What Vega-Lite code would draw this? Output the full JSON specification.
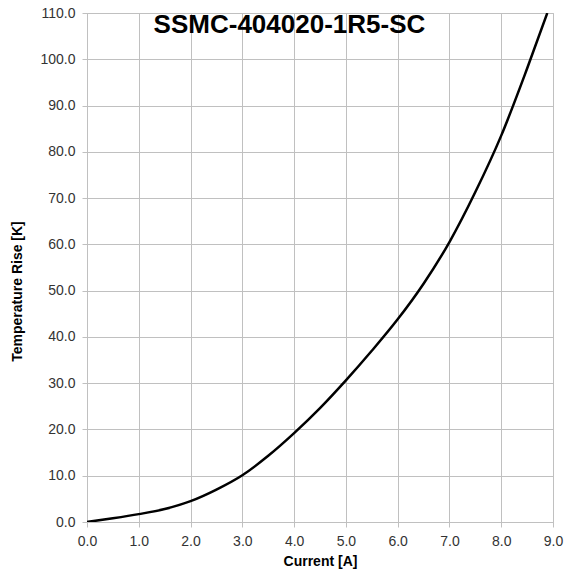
{
  "$schema": "https://vega.github.io/schema/vega-lite/v6.json",
  "width": 466,
  "height": 509,
  "autosize": "none",
  "padding": {"left": 87, "top": 13, "right": 15, "bottom": 49},
  "background": "white",
  "layer": [
    {
      "data": {
        "values": [
          {"current": 0, "rise": 0},
          {"current": 0.5, "rise": 0.8},
          {"current": 1, "rise": 1.7},
          {"current": 1.5, "rise": 2.8},
          {"current": 2, "rise": 4.5},
          {"current": 2.5, "rise": 7.0},
          {"current": 3, "rise": 10.1},
          {"current": 3.5, "rise": 14.3},
          {"current": 4, "rise": 19.2},
          {"current": 4.5, "rise": 24.6},
          {"current": 5, "rise": 30.6},
          {"current": 5.5, "rise": 37.0},
          {"current": 6, "rise": 43.8},
          {"current": 6.5, "rise": 51.5},
          {"current": 7, "rise": 60.5},
          {"current": 7.5, "rise": 71.3},
          {"current": 8, "rise": 83.5},
          {"current": 8.5, "rise": 98.0},
          {"current": 8.89, "rise": 110.0}
        ]
      },
      "mark": {"type": "line", "color": "#000000", "strokeWidth": 2.5, "interpolate": "monotone", "clip": true},
      "encoding": {
        "x": {
          "field": "current",
          "type": "quantitative",
          "scale": {"domain": [0, 9], "nice": false, "zero": false},
          "axis": {
            "title": "Current [A]",
            "values": [0, 1, 2, 3, 4, 5, 6, 7, 8, 9],
            "format": ".1f",
            "labelFlush": false,
            "titlePadding": 6
          }
        },
        "y": {
          "field": "rise",
          "type": "quantitative",
          "scale": {"domain": [0, 110], "nice": false},
          "axis": {
            "title": "Temperature Rise [K]",
            "values": [0, 10, 20, 30, 40, 50, 60, 70, 80, 90, 100, 110],
            "format": ".1f",
            "labelFlush": false,
            "titleX": -70,
            "titleY": 278,
            "titleAlign": "center",
            "titleBaseline": "middle"
          }
        }
      }
    },
    {
      "data": {"values": [{"label": "SSMC-404020-1R5-SC"}]},
      "mark": {
        "type": "text",
        "font": "Liberation Sans",
        "fontSize": 26,
        "fontWeight": "bold",
        "color": "#000000",
        "align": "center",
        "baseline": "alphabetic"
      },
      "encoding": {
        "text": {"field": "label", "type": "nominal"},
        "x": {"datum": 3.91, "type": "quantitative"},
        "y": {"datum": 105.7, "type": "quantitative"}
      }
    }
  ],
  "config": {
    "view": {"stroke": "#c0c0c0", "strokeWidth": 1},
    "axis": {
      "labelFont": "Liberation Sans",
      "labelFontSize": 14,
      "labelColor": "#333333",
      "titleFont": "Liberation Sans",
      "titleFontSize": 14,
      "titleFontWeight": "bold",
      "titleColor": "#000000",
      "gridColor": "#c0c0c0",
      "gridOpacity": 1,
      "gridWidth": 1,
      "domainColor": "#c0c0c0",
      "tickColor": "#c0c0c0",
      "tickSize": 5,
      "labelPadding": 7
    }
  }
}
